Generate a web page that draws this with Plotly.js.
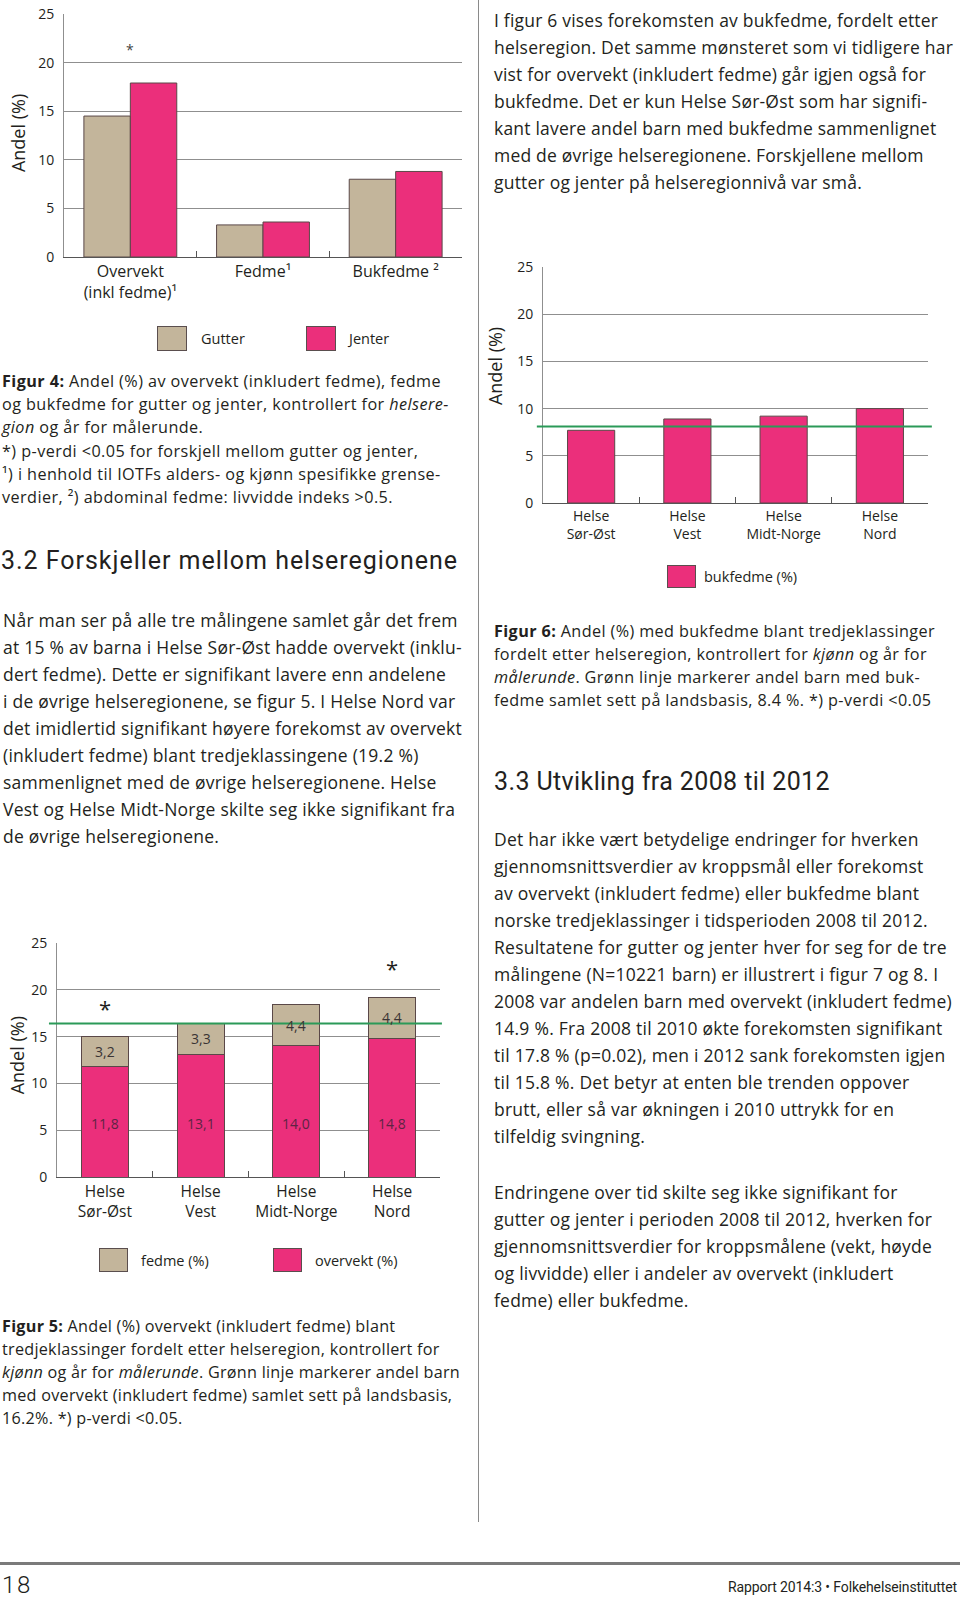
<!DOCTYPE html>
<html><head><meta charset="utf-8">
<script src="https://cdn.plot.ly/plotly-3.0.1.min.js"></script>
<style>
body{margin:0;background:#fff;width:960px;height:1597px;position:relative;overflow:hidden;font-family:'Open Sans',sans-serif;color:#231f20;}
.abs{position:absolute;}
.txt{position:absolute;white-space:nowrap;}
.body{font-size:17.5px;line-height:27px;}
.cap{font-size:16.2px;line-height:23.2px;}
.head{font-family:'Roboto',sans-serif;font-size:25px;line-height:30px;font-weight:400;color:#231f20;}
.sw{position:absolute;border:1px solid #5a4e4e;box-sizing:border-box;}
.lg{position:absolute;font-size:14.5px;line-height:20px;white-space:nowrap;}
</style></head><body>

<div class="abs" style="left:478px;top:0;width:1px;height:1522px;background:#8a8a8a;"></div>
<div class="abs" style="left:0;top:1562px;width:960px;height:3px;background:#7a7a7a;"></div>

<div id="fig4" class="abs" style="left:0;top:0;width:478px;height:320px;"></div>
<div id="fig6" class="abs" style="left:478px;top:240px;width:482px;height:320px;"></div>
<div id="fig5" class="abs" style="left:0;top:900px;width:478px;height:330px;"></div>

<!-- legends -->
<div class="sw" style="left:157px;top:326px;width:30px;height:25px;background:#c3b59b;"></div>
<div class="lg" style="left:201px;top:329px;">Gutter</div>
<div class="sw" style="left:306px;top:326px;width:30px;height:25px;background:#eb2f7b;"></div>
<div class="lg" style="left:349px;top:329px;">Jenter</div>

<div class="sw" style="left:667px;top:565px;width:29px;height:23px;background:#eb2f7b;"></div>
<div class="lg" style="left:704px;top:567px;">bukfedme (%)</div>

<div class="sw" style="left:99px;top:1248px;width:29px;height:24px;background:#c3b59b;"></div>
<div class="lg" style="left:141px;top:1251px;">fedme (%)</div>
<div class="sw" style="left:273px;top:1248px;width:29px;height:24px;background:#eb2f7b;"></div>
<div class="lg" style="left:315px;top:1251px;">overvekt (%)</div>

<!-- text blocks -->
<div class="txt body" data-ref="1" data-w="459" style="left:494px;top:6.5px;">
<span class="l">I figur 6 vises forekomsten av bukfedme, fordelt etter</span><br>
<span class="l">helseregion. Det samme mønsteret som vi tidligere har</span><br>
<span class="l">vist for overvekt (inkludert fedme) går igjen også for</span><br>
<span class="l">bukfedme. Det er kun Helse Sør-Øst som har signifi-</span><br>
<span class="l">kant lavere andel barn med bukfedme sammenlignet</span><br>
<span class="l">med de øvrige helseregionene. Forskjellene mellom</span><br>
<span class="l">gutter og jenter på helseregionnivå var små.</span>
</div>

<div class="txt cap" data-ref="0" data-w="439" style="left:2px;top:370px;">
<span class="l"><b>Figur 4:</b> Andel (%) av overvekt (inkludert fedme), fedme</span><br>
<span class="l">og bukfedme for gutter og jenter, kontrollert for <i>helsere-</i></span><br>
<span class="l"><i>gion</i> og år for målerunde.</span><br>
<span class="l">*) p-verdi &lt;0.05 for forskjell mellom gutter og jenter,</span><br>
<span class="l">¹) i henhold til IOTFs alders- og kjønn spesifikke grense-</span><br>
<span class="l">verdier, ²) abdominal fedme: livvidde indeks &gt;0.5.</span>
</div>

<div class="txt head" data-ref="0" data-w="457" style="left:1px;top:546px;">
<span class="l">3.2 Forskjeller mellom helseregionene</span>
</div>

<div class="txt body" data-ref="4" data-w="459" style="left:3px;top:606.5px;">
<span class="l">Når man ser på alle tre målingene samlet går det frem</span><br>
<span class="l">at 15 % av barna i Helse Sør-Øst hadde overvekt (inklu-</span><br>
<span class="l">dert fedme). Dette er signifikant lavere enn andelene</span><br>
<span class="l">i de øvrige helseregionene, se figur 5. I Helse Nord var</span><br>
<span class="l">det imidlertid signifikant høyere forekomst av overvekt</span><br>
<span class="l">(inkludert fedme) blant tredjeklassingene (19.2 %)</span><br>
<span class="l">sammenlignet med de øvrige helseregionene. Helse</span><br>
<span class="l">Vest og Helse Midt-Norge skilte seg ikke signifikant fra</span><br>
<span class="l">de øvrige helseregionene.</span>
</div>

<div class="txt cap" data-ref="2" data-w="458" style="left:2px;top:1314.5px;">
<span class="l"><b>Figur 5:</b> Andel (%) overvekt (inkludert fedme) blant</span><br>
<span class="l">tredjeklassinger fordelt etter helseregion, kontrollert for</span><br>
<span class="l"><i>kjønn</i> og år for <i>målerunde</i>. Grønn linje markerer andel barn</span><br>
<span class="l">med overvekt (inkludert fedme) samlet sett på landsbasis,</span><br>
<span class="l">16.2%. *) p-verdi &lt;0.05.</span>
</div>

<div class="txt cap" data-ref="0" data-w="441" style="left:494px;top:619.5px;">
<span class="l"><b>Figur 6:</b> Andel (%) med bukfedme blant tredjeklassinger</span><br>
<span class="l">fordelt etter helseregion, kontrollert for <i>kjønn</i> og år for</span><br>
<span class="l"><i>målerunde</i>. Grønn linje markerer andel barn med buk-</span><br>
<span class="l">fedme samlet sett på landsbasis, 8.4 %. *) p-verdi &lt;0.05</span>
</div>

<div class="txt head" data-ref="0" data-w="336" style="left:494px;top:767px;">
<span class="l">3.3 Utvikling fra 2008 til 2012</span>
</div>

<div class="txt body" data-ref="6" data-w="458" style="left:494px;top:825.5px;">
<span class="l">Det har ikke vært betydelige endringer for hverken</span><br>
<span class="l">gjennomsnittsverdier av kroppsmål eller forekomst</span><br>
<span class="l">av overvekt (inkludert fedme) eller bukfedme blant</span><br>
<span class="l">norske tredjeklassinger i tidsperioden 2008 til 2012.</span><br>
<span class="l">Resultatene for gutter og jenter hver for seg for de tre</span><br>
<span class="l">målingene (N=10221 barn) er illustrert i figur 7 og 8. I</span><br>
<span class="l">2008 var andelen barn med overvekt (inkludert fedme)</span><br>
<span class="l">14.9 %. Fra 2008 til 2010 økte forekomsten signifikant</span><br>
<span class="l">til 17.8 % (p=0.02), men i 2012 sank forekomsten igjen</span><br>
<span class="l">til 15.8 %. Det betyr at enten ble trenden oppover</span><br>
<span class="l">brutt, eller så var økningen i 2010 uttrykk for en</span><br>
<span class="l">tilfeldig svingning.</span>
</div>

<div class="txt body" data-ref="1" data-w="438" style="left:494px;top:1178.5px;">
<span class="l">Endringene over tid skilte seg ikke signifikant for</span><br>
<span class="l">gutter og jenter i perioden 2008 til 2012, hverken for</span><br>
<span class="l">gjennomsnittsverdier for kroppsmålene (vekt, høyde</span><br>
<span class="l">og livvidde) eller i andeler av overvekt (inkludert</span><br>
<span class="l">fedme) eller bukfedme.</span>
</div>

<div class="txt" data-ref="0" data-w="30" style="left:2px;top:1573px;font-family:'Roboto',sans-serif;font-size:24px;line-height:24px;font-weight:300;">
<span class="l">18</span>
</div>
<div class="txt" data-ref="0" data-w="229" style="left:728px;top:1578px;font-family:'Roboto',sans-serif;font-size:14px;line-height:19px;">
<span class="l">Rapport 2014:3 • Folkehelseinstituttet</span>
</div>

<script>
// ---------- data ----------
const fig4Categories = ['Overvekt<br>(inkl fedme)¹', 'Fedme¹', 'Bukfedme ²'];
const fig4Gutter = [14.5, 3.3, 8.0];
const fig4Jenter = [17.9, 3.6, 8.8];
const fig4Significant = [true, false, false];

const regions = ['Helse<br>Sør-Øst', 'Helse<br>Vest', 'Helse<br>Midt-Norge', 'Helse<br>Nord'];
const fig5Overvekt = [11.8, 13.1, 14.0, 14.8];
const fig5Fedme = [3.2, 3.3, 4.4, 4.4];
const fig5Significant = [true, false, false, true];
const fig5National = 16.4;

const fig6Bukfedme = [7.7, 8.9, 9.2, 10.0];
const fig6National = 8.1;

const yTicks = [0, 5, 10, 15, 20, 25];
const yMax = 25;

// ---------- styles ----------
const TAN = '#c3b59b', PINK = '#eb2f7b', GREEN = '#2b9a58', OUTLINE = '#5a4848';
const FONT = 'Open Sans, sans-serif', TEXTC = '#231f20';

function fmt(v) { return v.toFixed(1).replace('.', ','); }

function baseLayout(w, h, margin, catSize) {
  return {
    width: w, height: h, margin: margin,
    paper_bgcolor: 'rgba(0,0,0,0)', plot_bgcolor: 'rgba(0,0,0,0)',
    font: {family: FONT, color: TEXTC},
    showlegend: false,
    xaxis: {type: 'category', showline: true, linecolor: '#555', linewidth: 1,
      ticks: 'inside', tickson: 'boundaries', ticklen: 6, tickcolor: '#555', tickwidth: 1,
      showgrid: false, zeroline: false, tickfont: {size: catSize, color: TEXTC, family: FONT}},
    yaxis: {range: [0, yMax], tickvals: yTicks, showgrid: true, gridcolor: '#8f8f8f', gridwidth: 1,
      showline: true, linecolor: '#8f8f8f', linewidth: 1, zeroline: false, ticks: '',
      ticklabelstandoff: 6, tickfont: {size: 14, color: TEXTC, family: FONT}},
    annotations: [], shapes: []
  };
}
function yTitle(xshift, y) {
  return {xref: 'paper', yref: 'paper', x: 0, y: y, xshift: xshift, text: 'Andel (%)',
    textangle: -90, showarrow: false, font: {size: 18, color: TEXTC, family: FONT},
    xanchor: 'center', yanchor: 'middle'};
}
function nationalLine(v, x0, x1) {
  return {type: 'line', xref: 'paper', yref: 'paper', x0: x0, x1: x1, y0: v / yMax, y1: v / yMax,
    line: {color: GREEN, width: 2}, layer: 'above'};
}
const cfg = {staticPlot: true, displayModeBar: false};

// ---------- Figur 4 ----------
(function () {
  const L = baseLayout(478, 320, {l: 64, r: 16, t: 14, b: 63}, 16);
  L.barmode = 'group'; L.bargap = 0.3; L.bargroupgap = 0;
  L.annotations.push(yTitle(-46, 0.51));
  fig4Categories.forEach((c, i) => {
    if (fig4Significant[i]) L.annotations.push({x: c, y: Math.max(fig4Gutter[i], fig4Jenter[i]) + 3.4,
      text: '*', showarrow: false, font: {size: 14, color: '#444'}});
  });
  Plotly.newPlot('fig4', [
    {type: 'bar', name: 'Gutter', x: fig4Categories, y: fig4Gutter, marker: {color: TAN, line: {color: OUTLINE, width: 1}}},
    {type: 'bar', name: 'Jenter', x: fig4Categories, y: fig4Jenter, marker: {color: PINK, line: {color: OUTLINE, width: 1}}}
  ], L, cfg);
})();

// ---------- Figur 6 ----------
(function () {
  const L = baseLayout(482, 320, {l: 65, r: 32, t: 27, b: 57}, 14);
  L.bargap = 0.51;
  L.annotations.push(yTitle(-48, 0.58));
  L.shapes.push(nationalLine(fig6National, -0.016, 1.01));
  Plotly.newPlot('fig6', [
    {type: 'bar', name: 'bukfedme (%)', x: regions, y: fig6Bukfedme, marker: {color: PINK, line: {color: OUTLINE, width: 1}}}
  ], L, cfg);
})();

// ---------- Figur 5 ----------
(function () {
  const L = baseLayout(478, 330, {l: 57, r: 38, t: 43, b: 53}, 15.5);
  L.barmode = 'stack'; L.bargap = 0.51;
  L.annotations.push(yTitle(-40, 0.52));
  L.shapes.push(nationalLine(fig5National, -0.021, 1.005));
  regions.forEach((r, i) => {
    L.annotations.push({x: r, y: 5.7, text: fmt(fig5Overvekt[i]), showarrow: false, font: {size: 14, color: '#5e2444'}});
    L.annotations.push({x: r, y: fig5Overvekt[i] + fig5Fedme[i] / 2, text: fmt(fig5Fedme[i]), showarrow: false, font: {size: 14, color: '#3a3434'}});
    if (fig5Significant[i]) L.annotations.push({x: r, y: fig5Overvekt[i] + fig5Fedme[i] + 3.1,
      text: '*', showarrow: false, font: {size: 22, color: TEXTC}});
  });
  Plotly.newPlot('fig5', [
    {type: 'bar', name: 'overvekt (%)', x: regions, y: fig5Overvekt, marker: {color: PINK, line: {color: OUTLINE, width: 1}}},
    {type: 'bar', name: 'fedme (%)', x: regions, y: fig5Fedme, marker: {color: TAN, line: {color: OUTLINE, width: 1}}}
  ], L, cfg);
})();

// ---------- fit text widths ----------
document.querySelectorAll('.txt').forEach(el => {
  const spans = el.querySelectorAll('span.l');
  const ref = spans[+el.dataset.ref];
  const target = +el.dataset.w;
  const w = ref.getBoundingClientRect().width;
  const n = ref.textContent.length;
  el.style.letterSpacing = ((target - w) / n) + 'px';
});
</script>
</body></html>
